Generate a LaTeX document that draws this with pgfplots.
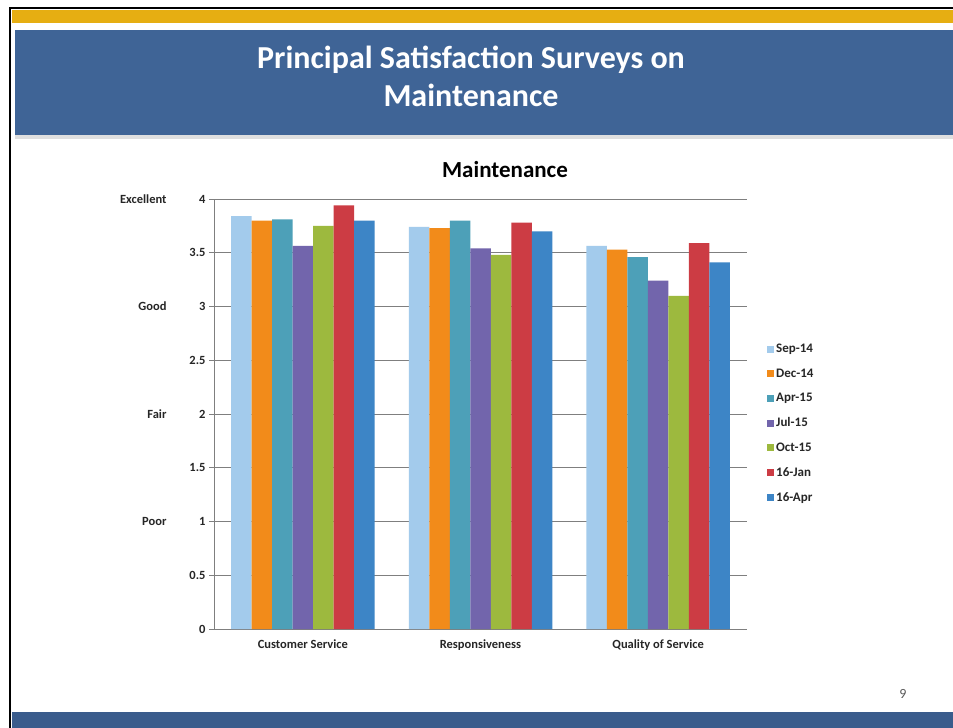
\documentclass[border=0pt]{standalone}
\usepackage{pgfplots}
\pgfplotsset{compat=1.18}
\usepackage{fontspec}
\setmainfont{Carlito}
\definecolor{slideyellow}{HTML}{E6AE12}
\definecolor{bannerblue}{HTML}{3F6496}
\definecolor{bottomblue}{HTML}{3A5C8C}
\definecolor{cSep}{HTML}{A3CBEC}
\definecolor{cDec}{HTML}{F28B1A}
\definecolor{cApr}{HTML}{4DA0B8}
\definecolor{cJul}{HTML}{7265AC}
\definecolor{cOct}{HTML}{9DB93E}
\definecolor{cJan}{HTML}{CC3C44}
\definecolor{cApr16}{HTML}{3D85C6}
\definecolor{gridc}{HTML}{7F7F7F}
\begin{document}
\begin{tikzpicture}
\useasboundingbox (0pt,0pt) rectangle (953pt,-728pt);
\fill[white] (0pt,0pt) rectangle (953pt,-728pt);
\draw[black, line width=1.5pt] (10pt,-728pt) -- (10pt,-8pt) -- (953pt,-8pt);
\fill[slideyellow] (12pt,-10pt) rectangle (953pt,-23pt);
\fill[bannerblue] (15pt,-30pt) rectangle (953pt,-135pt);
\fill[gray!25] (15pt,-135pt) rectangle (953pt,-139pt);
\fill[bottomblue] (12pt,-712pt) rectangle (953pt,-728pt);
\node[white, font=\bfseries\fontsize{32}{38}\selectfont, align=center] at (471pt,-76pt) {Principal Satisfaction Surveys on\\Maintenance};
\node[font=\fontsize{14}{16}\selectfont, text=gray!70!black] at (903pt,-694pt) {9};
\node[font=\bfseries\fontsize{23}{27}\selectfont] at (505pt,-170pt) {Maintenance};
\begin{axis}[
  at={(214pt,-629pt)}, anchor=south west,
  scale only axis, width=533pt, height=430pt,
  ybar=0pt, bar width=20.5pt,
  xmin=-0.5, xmax=2.5, ymin=0, ymax=4,
  xtick={0,1,2},
  xticklabels={Customer Service,Responsiveness,Quality of Service},
  ytick={0,0.5,1,1.5,2,2.5,3,3.5,4},
  yticklabels={0,0.5,1,1.5,2,2.5,3,3.5,4},
  ticklabel style={font=\bfseries\fontsize{12.5}{14}\selectfont, text=black!85},
  xticklabel style={yshift=-2pt},
  ymajorgrids, grid style={gridc, line width=0.8pt},
  axis lines*=left, axis line style={gridc, line width=0.8pt},
  tick align=outside, major tick length=5pt,
  tick style={gridc, line width=0.8pt},
  x tick style={draw=none},
  extra x ticks={-0.5,0.5,1.5,2.5}, extra x tick labels={},
  extra x tick style={grid=none, tick style={draw=gridc, line width=0.8pt}},
  clip=false,
  legend style={at={(rel axis cs:1,0.478)}, anchor=west, xshift=20pt, draw=none, fill=none,
    font=\bfseries\fontsize{13}{15}\selectfont, text=black!85, row sep=10.5pt, inner sep=0pt},
  legend cell align=left,
  legend image code/.code={\draw[#1,draw=none] (0pt,-3.5pt) rectangle (7pt,3.5pt);},
]
\addplot[fill=cSep, draw=none] coordinates {(0,3.84) (1,3.74) (2,3.565)};
\addplot[fill=cDec, draw=none] coordinates {(0,3.80) (1,3.73) (2,3.53)};
\addplot[fill=cApr, draw=none] coordinates {(0,3.81) (1,3.80) (2,3.46)};
\addplot[fill=cJul, draw=none] coordinates {(0,3.565) (1,3.54) (2,3.24)};
\addplot[fill=cOct, draw=none] coordinates {(0,3.75) (1,3.48) (2,3.10)};
\addplot[fill=cJan, draw=none] coordinates {(0,3.94) (1,3.78) (2,3.59)};
\addplot[fill=cApr16, draw=none] coordinates {(0,3.80) (1,3.70) (2,3.41)};
\legend{Sep-14,Dec-14,Apr-15,Jul-15,Oct-15,16-Jan,16-Apr}
\node[anchor=east, font=\bfseries\fontsize{12.5}{14}\selectfont, text=black!85] at ([xshift=-44pt]axis cs:-0.5,4) {Excellent};
\node[anchor=east, font=\bfseries\fontsize{12.5}{14}\selectfont, text=black!85] at ([xshift=-44pt]axis cs:-0.5,3) {Good};
\node[anchor=east, font=\bfseries\fontsize{12.5}{14}\selectfont, text=black!85] at ([xshift=-44pt]axis cs:-0.5,2) {Fair};
\node[anchor=east, font=\bfseries\fontsize{12.5}{14}\selectfont, text=black!85] at ([xshift=-44pt]axis cs:-0.5,1) {Poor};
\end{axis}
\end{tikzpicture}
\end{document}
